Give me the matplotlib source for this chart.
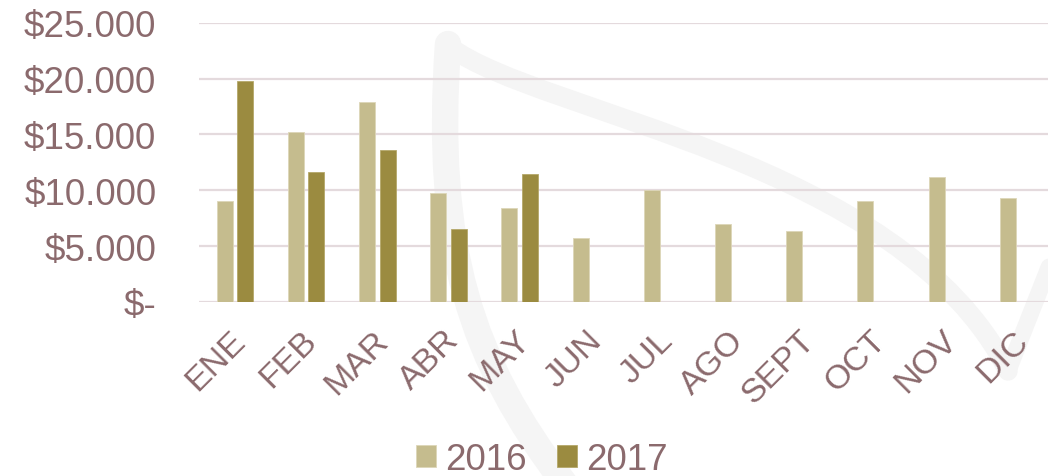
import matplotlib
matplotlib.use('Agg')

import matplotlib.pyplot as plt
from matplotlib.path import Path
from matplotlib.patches import PathPatch
from matplotlib.ticker import FuncFormatter
from matplotlib.transforms import ScaledTranslation
import numpy as np

# ---- datos ----
meses = ["ENE", "FEB", "MAR", "ABR", "MAY", "JUN",
         "JUL", "AGO", "SEPT", "OCT", "NOV", "DIC"]
ventas_2016 = [9050, 15200, 17900, 9760, 8420, 5760,
               10000, 6950, 6360, 9040, 11160, 9310]
ventas_2017 = [19760, 11680, 13590, 6540, 11460]

c2016 = "#c5bc8e"
c2017 = "#9b8b40"
texto = "#8b6a6d"
grid = "#e4dadd"
marca = "#f5f5f5"

plt.rcParams['font.family'] = ['Liberation Sans', 'DejaVu Sans']

fig = plt.figure(figsize=(10.48, 4.77), dpi=100)

# ---- marca de agua de fondo ----
bg = fig.add_axes([0, 0, 1, 1], zorder=-1)
bg.set_xlim(0, 1048)
bg.set_ylim(477, 0)
bg.axis("off")
trazos = [
    ([(448, 45), (434, 250), (470, 360), (565, 485)], 19),
    ([(450, 48), (540, 115), (900, 160), (1008, 372)], 14),
]
for pts, lw in trazos:
    p = Path(pts, [Path.MOVETO, Path.CURVE4, Path.CURVE4, Path.CURVE4])
    bg.add_patch(PathPatch(p, fill=False, edgecolor=marca, lw=lw,
                           capstyle="round"))
bg.plot([1008, 1058], [372, 245], color=marca, lw=12,
        solid_capstyle="round")

# ---- grafico ----
ax = fig.add_axes([0.1903, 0.365, 0.815, 0.585])
ax.set_facecolor("none")
x = np.arange(len(meses))
w = 0.225
off = 0.144
ax.bar(x - off, ventas_2016, w, color=c2016, label="2016", zorder=3,
       edgecolor="#ddd6b8", linewidth=0.6)
ax.bar(x[:len(ventas_2017)] + off, ventas_2017, w, color=c2017, label="2017",
       zorder=3, edgecolor="#b5a86a", linewidth=0.6)

ax.set_xlim(-0.5, len(meses) - 0.5)
ax.set_ylim(0, 25000)
ax.set_yticks(range(0, 25001, 5000))
ax.yaxis.set_major_formatter(FuncFormatter(
    lambda v, _: "$-" if v == 0 else "$" + f"{int(v):,}".replace(",", ".")))
ax.grid(axis="y", color=grid, linewidth=1.6, zorder=0)
for s in ax.spines.values():
    s.set_visible(False)
ax.tick_params(axis="both", length=0, labelsize=26.5, colors=texto)
ax.tick_params(axis="y", pad=31)
ax.set_xticks(x)
ax.set_xticklabels(meses, rotation=45, ha="right", va="center",
                   rotation_mode="anchor", fontsize=24.5)
ax.tick_params(axis="x", pad=24)
desplaza = ScaledTranslation(6 / 100, 0, fig.dpi_scale_trans)
for lab in ax.get_xticklabels():
    lab.set_transform(lab.get_transform() + desplaza)

leg = fig.legend(loc="center", bbox_to_anchor=(0.517, 0.035), ncol=2,
                 frameon=False, fontsize=26.5, handlelength=0.55,
                 handleheight=0.55, handletextpad=0.25, columnspacing=0.8,
                 labelcolor=texto)

plt.savefig("out.png", dpi=100)
